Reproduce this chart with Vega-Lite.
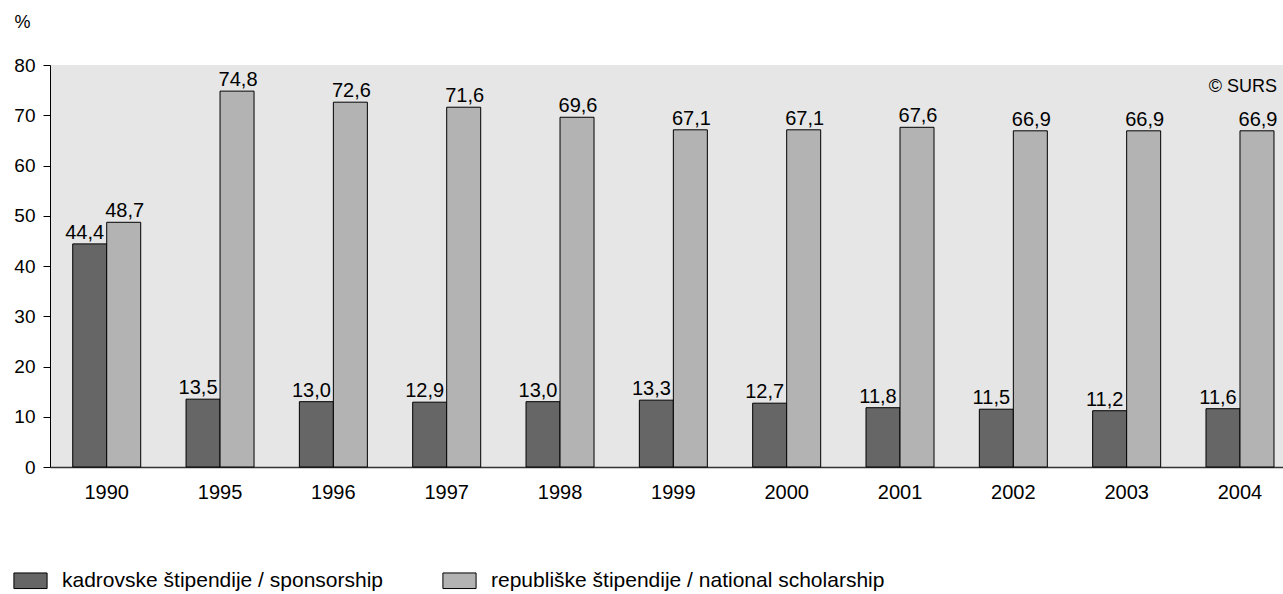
{
  "$schema": "https://vega.github.io/schema/vega-lite/v6.json",
  "width": 1233,
  "height": 402,
  "autosize": {"type": "none"},
  "padding": {"left": 50, "top": 65, "right": 0, "bottom": 127},
  "background": "white",
  "config": {
    "locale": {"number": {"decimal": ",", "thousands": ".", "grouping": [3], "currency": ["", " €"]}},
    "font": "Liberation Sans",
    "view": {"fill": "#e6e6e6", "stroke": null}
  },
  "data": {
    "values": [
      {"year": "1990", "series": "kadrovske štipendije / sponsorship", "value": 44.4},
      {"year": "1990", "series": "republiške štipendije / national scholarship", "value": 48.7},
      {"year": "1995", "series": "kadrovske štipendije / sponsorship", "value": 13.5},
      {"year": "1995", "series": "republiške štipendije / national scholarship", "value": 74.8},
      {"year": "1996", "series": "kadrovske štipendije / sponsorship", "value": 13.0},
      {"year": "1996", "series": "republiške štipendije / national scholarship", "value": 72.6},
      {"year": "1997", "series": "kadrovske štipendije / sponsorship", "value": 12.9},
      {"year": "1997", "series": "republiške štipendije / national scholarship", "value": 71.6},
      {"year": "1998", "series": "kadrovske štipendije / sponsorship", "value": 13.0},
      {"year": "1998", "series": "republiške štipendije / national scholarship", "value": 69.6},
      {"year": "1999", "series": "kadrovske štipendije / sponsorship", "value": 13.3},
      {"year": "1999", "series": "republiške štipendije / national scholarship", "value": 67.1},
      {"year": "2000", "series": "kadrovske štipendije / sponsorship", "value": 12.7},
      {"year": "2000", "series": "republiške štipendije / national scholarship", "value": 67.1},
      {"year": "2001", "series": "kadrovske štipendije / sponsorship", "value": 11.8},
      {"year": "2001", "series": "republiške štipendije / national scholarship", "value": 67.6},
      {"year": "2002", "series": "kadrovske štipendije / sponsorship", "value": 11.5},
      {"year": "2002", "series": "republiške štipendije / national scholarship", "value": 66.9},
      {"year": "2003", "series": "kadrovske štipendije / sponsorship", "value": 11.2},
      {"year": "2003", "series": "republiške štipendije / national scholarship", "value": 66.9},
      {"year": "2004", "series": "kadrovske štipendije / sponsorship", "value": 11.6},
      {"year": "2004", "series": "republiške štipendije / national scholarship", "value": 66.9}
    ]
  },
  "encoding": {
    "x": {
      "field": "year", "type": "nominal",
      "scale": {"paddingInner": 0.4, "paddingOuter": 0.14, "align": 0.716},
      "axis": {"title": null, "labelAngle": 0, "ticks": false, "labelPadding": 15, "labelFontSize": 20, "labelColor": "black", "domainColor": "#333333", "domainWidth": 1.5, "labelFont": "Liberation Sans"}
    },
    "y": {
      "field": "value", "type": "quantitative",
      "scale": {"domain": [0, 80]},
      "axis": {
        "values": [0, 10, 20, 30, 40, 50, 60, 70, 80],
        "grid": false, "tickSize": 7, "tickColor": "black", "domainColor": "black",
        "labelFontSize": 19, "labelColor": "black", "labelPadding": 8, "labelFont": "Liberation Sans",
        "title": "%", "titleAngle": 0, "titleX": -36, "titleY": -43, "titleAlign": "left", "titleBaseline": "middle",
        "titleFontSize": 18, "titleFontWeight": "normal", "titleColor": "black", "titleFont": "Liberation Sans"
      }
    }
  },
  "layer": [
    {
      "mark": {"type": "bar", "stroke": "black", "strokeWidth": 1},
      "encoding": {
        "xOffset": {"field": "series", "type": "nominal", "scale": {"paddingInner": 0, "paddingOuter": 0}},
        "fill": {
          "field": "series", "type": "nominal",
          "scale": {"range": ["#666666", "#b3b3b3"]},
          "legend": {
            "title": null, "orient": "none", "direction": "horizontal",
            "legendX": -37, "legendY": 498,
            "symbolType": "M-1,-0.47H1V0.47H-1Z", "symbolSize": 1100, "symbolStrokeColor": "black", "symbolStrokeWidth": 1,
            "labelFontSize": 21, "labelColor": "black", "labelFont": "Liberation Sans", "labelLimit": 600,
            "labelOffset": 14, "columnPadding": 56
          }
        }
      }
    },
    {
      "transform": [{"filter": "datum.series === 'kadrovske štipendije / sponsorship'"}],
      "mark": {"type": "text", "baseline": "alphabetic", "dy": -5, "dx": -5, "fontSize": 20, "color": "black", "font": "Liberation Sans"},
      "encoding": {
        "xOffset": {"field": "series", "type": "nominal"},
        "text": {"field": "value", "type": "quantitative", "format": ".1f"}
      }
    },
    {
      "transform": [{"filter": "datum.series !== 'kadrovske štipendije / sponsorship'"}],
      "mark": {"type": "text", "baseline": "alphabetic", "dy": -5, "dx": 1, "fontSize": 20, "color": "black", "font": "Liberation Sans"},
      "encoding": {
        "xOffset": {"field": "series", "type": "nominal"},
        "text": {"field": "value", "type": "quantitative", "format": ".1f"}
      }
    },
    {
      "transform": [{"filter": "datum.year === '2004' && datum.series !== 'kadrovske štipendije / sponsorship'"}],
      "mark": {"type": "text", "align": "right", "baseline": "middle", "dx": 37, "fontSize": 18, "color": "black", "font": "Liberation Sans"},
      "encoding": {
        "y": {"datum": 75.7},
        "text": {"value": "© SURS"}
      }
    }
  ]
}
